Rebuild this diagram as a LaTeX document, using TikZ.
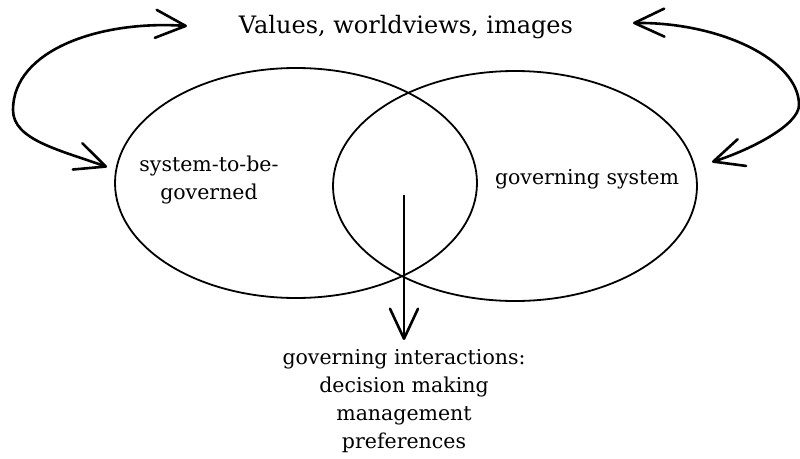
\documentclass[tikz,border=0pt]{standalone}
\usepackage{fontspec}
\setmainfont{DejaVu Serif}
\usepackage{tikz}
\usetikzlibrary{shapes,arrows,positioning,calc,arrows.meta}

\newcommand{\headfont}{\fontsize{24}{29}\selectfont}
\newcommand{\bodyfont}{\fontsize{20.5}{28}\selectfont}

\begin{document}
\begin{tikzpicture}[x=1pt, y=-1pt,
    oval/.style={draw, ellipse, line width=1.8pt, inner sep=0pt},
    lbl/.style={font=\bodyfont, text=black, inner sep=2pt},
    barb/.tip={Straight Barb[length=30pt, width=28pt, round]},
    swing/.style={line width=2.6pt, line cap=round, barb-barb}]
    \useasboundingbox (0,0) rectangle (800,458);
    \fill[white] (0,0) rectangle (800,458);

    \node[font=\headfont, text=black, anchor=base] (vals) at (406,33) {Values, worldviews, images};

    \node[oval, minimum width=362pt, minimum height=230pt] (sys) at (296,183) {};
    \node[oval, minimum width=364pt, minimum height=230pt] (gov) at (515,186) {};

    \node[lbl, align=center] (sysl) at (209,180) {system-to-be-\\governed};
    \node[lbl, anchor=base] (govl) at (587,184) {governing system};
    \node[lbl, align=center, anchor=north, inner ysep=9pt] (acts) at (404,340)
        {governing interactions:\\decision making\\management\\preferences};

    % ends of the curved arrows
    \coordinate (vl) at (187,26);
    \coordinate (sl) at (107,167);
    \coordinate (vr) at (633,23);
    \coordinate (gr) at (712,162);
    \coordinate (lens) at (404,195);

    \draw[swing] (vl) .. controls (100,20) and (13,50) .. (13,110)
        .. controls (13,140) and (60,150) .. (sl);
    \draw[swing] (vr) .. controls (720,22) and (799,60) .. (799,105)
        .. controls (799,125) and (750,150) .. (gr);

    \draw[line width=2.6pt, -barb] (lens) -- (acts);
\end{tikzpicture}
\end{document}
